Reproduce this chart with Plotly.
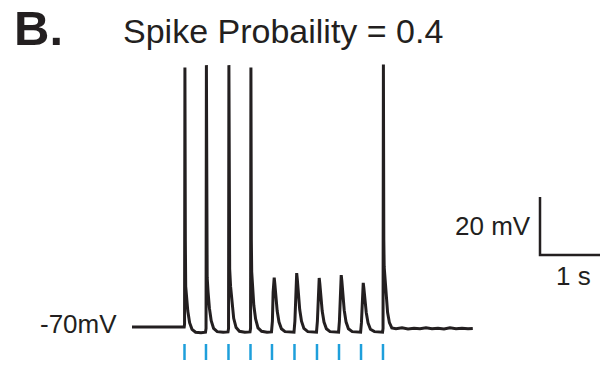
import plotly.graph_objects as go

# ---- data (time in s, membrane potential in mV) ----
stim_times = [0.875, 1.233, 1.608, 1.975, 2.333, 2.708, 3.083, 3.45, 3.817, 4.183]

trace_t = [
    0.0, 0.5, 0.87,
    0.876, 0.882, 0.889, 0.895, 0.91, 0.93, 0.96, 1.0, 1.06, 1.15, 1.225,
    1.234, 1.240, 1.247, 1.253, 1.268, 1.29, 1.32, 1.36, 1.42, 1.52, 1.60,
    1.609, 1.615, 1.622, 1.628, 1.643, 1.665, 1.695, 1.735, 1.79, 1.88, 1.967,
    1.976, 1.982, 1.989, 1.995, 2.01, 2.03, 2.06, 2.10, 2.16, 2.25, 2.325,
    2.34, 2.352, 2.362, 2.37, 2.38, 2.395, 2.42, 2.45, 2.49, 2.55, 2.70,
    2.715, 2.727, 2.737, 2.745, 2.755, 2.77, 2.795, 2.825, 2.865, 2.93, 3.075,
    3.09, 3.102, 3.112, 3.12, 3.13, 3.145, 3.17, 3.2, 3.24, 3.30, 3.443,
    3.457, 3.469, 3.479, 3.487, 3.497, 3.512, 3.537, 3.567, 3.607, 3.67, 3.81,
    3.824, 3.836, 3.846, 3.854, 3.864, 3.879, 3.904, 3.934, 3.974, 4.04, 4.176,
    4.184, 4.190, 4.197, 4.203, 4.215, 4.235, 4.26, 4.29, 4.33, 4.40,
    4.5, 4.6, 4.7, 4.8, 4.9, 5.0, 5.1, 5.2, 5.3, 5.4, 5.5, 5.6, 5.68,
]
trace_v = [
    -70.0, -70.1, -70.0,
    -69.0, 19.5, -40.0, -56.0, -60.0, -64.5, -68.5, -70.8, -71.8, -72.0, -71.8,
    -70.5, 20.3, -40.0, -53.0, -58.0, -63.5, -67.8, -70.5, -71.6, -71.8, -71.7,
    -70.5, 20.3, -40.0, -50.0, -56.0, -62.0, -67.0, -70.2, -71.5, -71.8, -71.7,
    -70.5, 19.5, -40.0, -51.0, -57.0, -62.5, -67.2, -70.3, -71.5, -71.8, -71.7,
    -68.0, -58.0, -53.5, -53.0, -55.0, -59.5, -64.5, -68.3, -70.6, -71.6, -71.8,
    -68.0, -57.0, -52.0, -51.4, -53.5, -58.5, -64.0, -68.0, -70.5, -71.6, -71.8,
    -68.0, -58.0, -53.6, -53.1, -55.0, -59.5, -64.5, -68.3, -70.6, -71.6, -71.8,
    -68.0, -57.5, -52.6, -52.1, -54.0, -59.0, -64.2, -68.2, -70.6, -71.6, -71.8,
    -68.5, -59.5, -55.3, -54.8, -56.5, -60.5, -65.0, -68.6, -70.8, -71.6, -71.8,
    -70.5, 20.5, -40.0, -49.3, -53.0, -59.5, -65.0, -68.5, -70.3, -70.6,
    -70.3, -70.7, -70.4, -70.6, -70.3, -70.6, -70.4, -70.7, -70.3, -70.6, -70.4, -70.6, -70.5,
]

title_text = "Spike Probaility = 0.4"
panel_label = "B."
rest_label = "-70mV"
scale_v = 20.0   # mV
scale_t = 1.0    # s
scale_v_label = "20 mV"
scale_t_label = "1 s"
rest_mv = -70.0

# ---- styling / layout ----
TXT = "#231f20"
FONT = "Liberation Sans, Arial, Helvetica, sans-serif"
W, H = 607, 367
# pixel mapping: 60 px per second, 2.9 px per mV
x_range = [-132 / 60.0, (W - 132) / 60.0]
y_range = [rest_mv - (H - 327) / 2.9, rest_mv + 327 / 2.9]

fig = go.Figure()

fig.add_trace(go.Scatter(
    x=trace_t, y=trace_v, mode="lines",
    line=dict(color=TXT, width=3), hoverinfo="skip", showlegend=False,
))

# stimulus ticks
stim_top = rest_mv - (344 - 327) / 2.9
stim_bot = rest_mv - (360 - 327) / 2.9
sx, sy = [], []
for t in stim_times:
    sx += [t, t, None]
    sy += [stim_top, stim_bot, None]
fig.add_trace(go.Scatter(
    x=sx, y=sy, mode="lines", line=dict(color="#1e9fdb", width=2.5),
    hoverinfo="skip", showlegend=False,
))

# scale bar
bar_x0 = (540 - 132) / 60.0
bar_y0 = rest_mv - (255 - 327) / 2.9
fig.add_trace(go.Scatter(
    x=[bar_x0, bar_x0, bar_x0 + scale_t],
    y=[bar_y0 + scale_v, bar_y0, bar_y0],
    mode="lines", line=dict(color=TXT, width=2.5),
    hoverinfo="skip", showlegend=False,
))

def px_ann(text, x, y, size, xanchor="center", yanchor="middle", bold=False):
    fig.add_annotation(
        text=f"<b>{text}</b>" if bold else text,
        x=x / W, y=1 - y / H, xref="paper", yref="paper",
        xanchor=xanchor, yanchor=yanchor, showarrow=False,
        font=dict(family=FONT, size=size, color=TXT),
    )

px_ann(panel_label, 12, 28, 49, xanchor="left", bold=True)
px_ann(title_text, 283, 31, 34)
px_ann(rest_label, 119, 324, 26, xanchor="right")
px_ann(scale_v_label, 533, 226, 26, xanchor="right")
px_ann(scale_t_label, 573, 276, 26)

fig.update_layout(
    width=W, height=H,
    margin=dict(l=0, r=0, t=0, b=0),
    paper_bgcolor="white", plot_bgcolor="white",
    xaxis=dict(range=x_range, visible=False, fixedrange=True),
    yaxis=dict(range=y_range, visible=False, fixedrange=True),
    showlegend=False,
)

fig.write_html("out.html")
